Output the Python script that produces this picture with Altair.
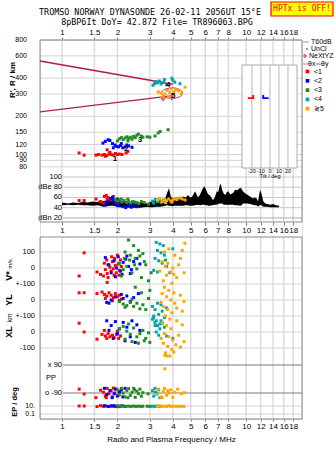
import altair as alt
import pandas as pd

FONT = "Liberation Sans"
MONO = "DejaVu Sans Mono"

MODES = ["<1", "<2", "<3", "<4", "≷5"]
MODE_COLORS = ["#ff0000", "#0000ff", "#228b22", "#00a6a6", "#ffa500"]

FREQ_TICKS = [1, 1.5, 2, 3, 4, 5, 6, 7, 8, 10, 12, 14, 16, 18]
HEIGHT_TICKS = [80, 90, 100, 120, 150, 200, 300, 400, 600, 800]
AMP_TICKS = [100, 80, 60, 40, 20]
AMP_LABELS = ["100", "dBe 80", "60", "40", "dBn 20"]
VSTAR_TICKS = [100, 0, -100]
VSTAR_LABELS = ["100", "0", "+-100"]
YL_TICKS = [0, -100]
YL_LABELS = ["0", "+-100"]
XL_TICKS = [0, -100]
XL_LABELS = ["0", "-100"]
PP_TICKS = [90, -90]
PP_LABELS = ["x  90", "o -90"]
EP_TICKS = [10, 0.1]
EP_LABELS = ["10.", "0.1"]
TILT_TICKS = [-20, -10, 0, 10, 20]
TILT_LABELS = ["-20", "-10", "0", "10", "20"]

# virtual height R' (km) vs frequency (MHz)
height_pts = {
    "<1": [(1.24, 103), (1.32, 99), (1.53, 99), (1.58, 100), (1.65, 99), (1.70, 100), (1.72, 97),
           (1.75, 98), (1.76, 109), (1.80, 101), (1.82, 104), (1.85, 100), (1.90, 99), (1.95, 102),
           (2.00, 100), (2.05, 101), (2.12, 100), (2.23, 103), (2.28, 106)],
    "<2": [(1.67, 123), (1.72, 127), (1.78, 131), (1.82, 129), (1.88, 122), (1.90, 113), (1.94, 119),
           (1.98, 116), (2.03, 115), (2.08, 118), (2.10, 122), (2.14, 113), (2.20, 115), (2.25, 119),
           (2.30, 117), (2.40, 114)],
    "<3": [(2.00, 128), (2.05, 133), (2.10, 136), (2.15, 131), (2.20, 135), (2.25, 138), (2.28, 128),
           (2.30, 134), (2.35, 137), (2.40, 132), (2.45, 139), (2.50, 136), (2.55, 142), (2.60, 145),
           (2.70, 140), (2.75, 137), (2.90, 138), (3.00, 137), (3.20, 140), (3.33, 148), (3.41, 152),
           (3.77, 157)],
    "<4": [(3.12, 352), (3.18, 362), (3.25, 375), (3.30, 368), (3.38, 380), (3.45, 360), (3.55, 370),
           (3.60, 390), (3.70, 355), (3.95, 400), (4.00, 385), (4.10, 372), (4.37, 362)],
    "≷5": [(3.33, 312), (3.45, 305), (3.50, 282), (3.55, 290), (3.62, 300), (3.72, 320), (3.78, 285),
           (3.85, 308), (3.90, 330), (3.95, 298), (4.05, 312), (4.15, 325), (4.30, 318), (4.45, 302),
           (4.66, 340)],
}

# model traces (theta-x) and the cusp ellipse
model_upper = [(0.76, 547), (4.0, 358)]
model_lower = [(0.76, 217), (3.9, 290)]
cusp_ellipse = [(3.96, 305)]
nextyz_marks = [(3.54, 275), (3.96, 280)]
trace_labels = [(1.94, 93, "1"), (2.23, 110, "2"), (2.65, 130, "3"), (3.77, 352, "4"), (4.02, 290, "5")]

# tilt inset (deg, km)
tilt_pts = [("<1", -21, 280), ("<2", -5, 280)]

# amplitude (dB) of echoes
amp_pts = {
    "<1": [(1.24, 54), (1.32, 54), (1.53, 57), (1.62, 52), (1.68, 49), (1.70, 62), (1.74, 64), (1.76, 56),
           (1.78, 60), (1.82, 58), (1.86, 55), (1.90, 62), (1.95, 53), (2.00, 57), (2.05, 50)],
    "<2": [(1.72, 45), (1.78, 52), (1.84, 58), (1.88, 60), (1.90, 55), (1.96, 48), (2.00, 56), (2.02, 44),
           (2.08, 50), (2.15, 42), (2.22, 40), (2.30, 44), (2.38, 41), (2.46, 46), (2.55, 42)],
    "<3": [(1.95, 56), (2.00, 53), (2.06, 55), (2.10, 57), (2.12, 51), (2.18, 54), (2.24, 50), (2.28, 57),
           (2.30, 53), (2.36, 49), (2.42, 52), (2.48, 51), (2.55, 50), (2.62, 48), (2.70, 52), (2.80, 50),
           (2.95, 47)],
    "<4": [(3.10, 53), (3.15, 49), (3.22, 56), (3.30, 52), (3.38, 55), (3.45, 50), (3.55, 54), (3.62, 52)],
    "≷5": [(3.30, 55), (3.40, 58), (3.50, 52), (3.60, 56), (3.65, 50), (3.70, 54), (3.80, 57), (3.90, 53),
           (3.95, 51), (4.00, 55), (4.10, 58), (4.20, 56), (4.35, 59), (4.50, 57), (4.66, 55)],
}

# receiver noise / clutter band (f, low dB, high dB)
noise_f = [1.00, 1.08, 1.15, 1.22, 1.30, 1.38, 1.47, 1.55, 1.61, 1.67, 1.75, 1.82, 1.89, 2.00, 2.14, 2.28,
           2.43, 2.55, 2.65, 2.78, 2.90, 3.00, 3.12, 3.25, 3.41, 3.55, 3.63, 3.72, 3.81, 3.90, 3.96, 4.08,
           4.21, 4.37, 4.54, 4.70, 4.83, 4.96, 5.10, 5.28, 5.48, 5.62, 5.77, 5.92, 6.05, 6.13, 6.25, 6.37,
           6.50, 6.61, 6.75, 6.93, 7.05, 7.20, 7.30, 7.40, 7.55, 7.70, 7.85, 8.00, 8.20, 8.40, 8.55, 8.70,
           8.95, 9.30, 9.45, 9.60, 9.90, 10.2, 10.5, 10.9, 11.1, 11.4, 11.6, 11.9, 12.1, 12.4, 12.7, 13.0,
           13.5, 14.0, 14.5, 15.1]
noise_hi = [50, 48, 50, 49, 51, 50, 52, 51, 53, 53, 54, 55, 55, 53, 51, 50,
            49, 48, 49, 50, 48, 51, 53, 55, 56, 54, 57, 69, 78, 62, 59, 57,
            60, 58, 62, 60, 65, 60, 62, 72, 60, 66, 75, 82, 76, 70, 66, 64,
            58, 55, 60, 72, 70, 85, 86, 75, 68, 65, 70, 72, 66, 68, 70, 75,
            74, 79, 77, 72, 68, 65, 62, 58, 60, 58, 52, 75, 68, 52, 48, 47,
            46, 47, 45, 44]
noise_lo = [45, 46, 45, 46, 45, 45, 44, 45, 44, 42, 43, 44, 44, 42, 40, 40,
            40, 40, 40, 41, 42, 41, 41, 42, 42, 43, 44, 45, 44, 44, 43, 44,
            44, 44, 44, 45, 45, 44, 44, 45, 46, 45, 46, 46, 45, 45, 44, 44,
            45, 45, 46, 46, 47, 48, 48, 48, 46, 46, 46, 46, 46, 46, 46, 45,
            45, 44, 45, 48, 48, 48, 47, 46, 45, 45, 42, 46, 45, 42, 42, 42,
            41, 41, 41, 41]

# Doppler velocity V* (m/s)
vstar_pts = {
    "<1": [(1.32, 95), (1.24, -50), (1.55, -25), (1.62, -40), (1.68, -50), (1.70, 30), (1.72, -10),
           (1.75, 50), (1.76, -35), (1.76, -90), (1.78, -60), (1.80, 20), (1.82, 5), (1.85, -20),
           (1.86, 70), (1.88, 40), (1.90, -5), (1.92, -45), (1.93, 60), (1.95, 15), (1.97, -30),
           (2.00, 80), (2.02, 25), (2.04, -45), (2.05, -15), (2.08, 50), (2.10, 10)],
    "<2": [(1.72, 65), (1.78, 20), (1.85, -30), (1.92, 45), (1.95, -55), (1.98, 0), (2.02, 70),
           (2.08, -20), (2.12, -40), (2.15, 35), (2.22, 55), (2.25, 75), (2.30, 10), (2.35, -35),
           (2.38, -10), (2.45, 40), (2.55, 60), (2.65, 25)],
    "<3": [(2.30, 175), (2.45, 140), (2.60, 110), (2.20, 100), (2.35, 80), (2.50, 60), (2.65, 75),
           (2.80, 40), (2.05, 30), (2.15, -10), (2.25, 10), (2.40, -30), (2.55, -5), (2.70, -60),
           (2.85, 20), (2.95, -80), (2.10, -50), (2.33, 50), (2.48, 20), (2.75, 90), (3.05, -30),
           (2.18, 60)],
    "<4": [(3.25, 160), (3.40, 150), (3.55, 140), (3.30, 110), (3.45, 95), (3.60, 80), (3.20, 60),
           (3.35, 45), (3.50, 30), (3.70, 10), (3.15, -15), (3.30, -25), (3.85, -30), (3.65, 50),
           (4.00, 120)],
    "≷5": [(3.60, 100), (3.80, 120), (4.10, 80), (4.50, 110), (4.65, 155), (3.50, 40), (3.75, 30),
           (4.00, 0), (4.30, 20), (3.40, -20), (3.70, -45), (3.90, -25), (4.20, -60), (4.60, -30),
           (3.55, -80), (3.95, -95), (4.40, 60), (3.65, 10), (4.05, -40)],
}

# YL (km)
yl_pts = {
    "<1": [(1.24, 45), (1.32, 45), (1.55, 40), (1.65, 50), (1.70, 35), (1.72, 10), (1.75, 25), (1.80, 45),
           (1.85, 30), (1.88, -5), (1.90, 15), (1.95, 40), (2.00, 20), (2.05, 30), (2.10, 5)],
    "<2": [(1.75, -15), (1.80, -20), (1.85, 0), (1.95, 20), (2.05, -5), (2.10, 35), (2.15, 10),
           (2.25, 25), (2.35, -10), (2.45, 15), (2.60, 40)],
    "<3": [(2.05, -10), (2.15, -25), (2.20, -45), (2.25, -35), (2.35, -15), (2.40, 5), (2.45, -40),
           (2.50, 80), (2.55, -20), (2.65, -55), (2.70, 45), (2.75, -30), (2.85, -60), (2.95, 10),
           (3.00, 60)],
    "<4": [(3.10, -40), (3.20, -60), (3.30, -20), (3.15, -100), (3.25, -130), (3.40, -150),
           (3.35, -90), (3.50, -70), (3.60, -110), (3.20, -160), (3.45, -30), (3.70, -50)],
    "≷5": [(3.60, 80), (3.80, 60), (3.50, 40), (3.70, 20), (3.90, 0), (4.10, -20), (4.40, 30),
           (4.60, -10), (3.55, -40), (3.75, -60), (3.95, -80), (4.20, -50), (3.65, -100),
           (3.85, -120), (4.50, -70), (3.45, -15), (4.05, 45)],
}

# XL (km)
xl_pts = {
    "<1": [(1.24, 55), (1.32, 0), (1.55, -45), (1.65, -15), (1.70, 10), (1.72, -25), (1.75, -40),
           (1.78, -10), (1.82, -30), (1.88, -20), (1.92, -35), (1.98, -15), (2.00, 5), (2.03, -40),
           (2.08, -25)],
    "<2": [(1.75, 70), (1.80, 10), (1.85, 40), (1.90, -40), (1.95, 65), (2.00, -10), (2.05, 20),
           (2.15, 60), (2.20, -55), (2.25, 30), (2.35, -30), (2.40, 70), (2.50, -65), (2.55, 45),
           (2.65, 10)],
    "<3": [(2.05, 20), (2.15, 35), (2.20, -45), (2.25, 5), (2.30, 50), (2.35, -15), (2.40, -60),
           (2.45, 25), (2.55, -30), (2.60, -70), (2.65, -10), (2.75, 10), (2.80, -55), (2.85, -40),
           (2.95, -5), (3.00, -65)],
    "<4": [(3.10, 80), (3.15, 90), (3.20, 60), (3.25, 0), (3.30, 40), (3.35, -20), (3.40, 20),
           (3.45, 70), (3.50, 55), (3.60, 30), (3.70, -25), (4.00, -40)],
    "≷5": [(3.50, 60), (3.70, 40), (3.90, 20), (4.20, 70), (4.50, 45), (3.60, -10), (3.80, -30),
           (4.00, -50), (4.30, -20), (3.55, -70), (3.75, -90), (3.95, -110), (4.15, -80), (3.65, -130),
           (3.85, -150), (4.05, -125), (4.40, -95), (3.45, -40), (4.60, -60), (3.62, -145),
           (3.70, -150), (3.62, -230)],
}

# polarisation PP (deg)
pp_pts = {
    "<1": [(1.24, -65), (1.32, -97), (1.53, -120), (1.62, -72), (1.68, -85), (1.72, -110), (1.74, -120),
           (1.76, -60), (1.80, -95), (1.85, -75), (1.88, -115), (1.90, -58), (1.93, -90), (1.97, -65),
           (2.02, -105), (2.06, -80)],
    "<2": [(1.70, -60), (1.75, -100), (1.82, -75), (1.87, -120), (1.92, -95), (1.95, -65), (2.00, -110),
           (2.05, -85), (2.10, -70), (2.14, -115), (2.20, -60)],
    "<3": [(2.00, -70), (2.05, -100), (2.10, -60), (2.15, -90), (2.20, -115), (2.25, -75), (2.28, -120),
           (2.30, -62), (2.35, -105), (2.40, -85), (2.45, -60), (2.48, -70), (2.50, -118), (2.55, -78),
           (2.60, -95), (2.65, -65), (2.70, -110), (2.75, -88), (2.93, -95)],
    "<4": [(3.10, -75), (3.15, -110), (3.20, -60), (3.22, -85), (3.28, -95), (3.35, -70), (3.40, -120)],
    "≷5": [(3.25, -100), (3.35, -65), (3.45, -115), (3.50, -120), (3.55, -80), (3.60, -60), (3.70, -105),
           (3.75, -75), (3.80, -90), (3.90, -70), (4.00, -118), (4.10, -85), (4.25, -65), (4.45, -95),
           (4.60, -88)],
}

# EP (deg)
ep_pts = {
    "<1": [(1.24, 10), (1.32, 10), (1.55, 7), (1.62, 12), (1.68, 8), (1.74, 10), (1.80, 7), (1.86, 11),
           (1.92, 8), (2.00, 10), (2.06, 7)],
    "<2": [(1.70, 12), (1.78, 8), (1.85, 10), (1.92, 12), (1.98, 7), (2.05, 9), (2.12, 11), (2.20, 8)],
    "<3": [(2.00, 9), (2.08, 8), (2.15, 10), (2.22, 8), (2.30, 9), (2.38, 8), (2.45, 10), (2.52, 8),
           (2.60, 9), (2.68, 8), (2.75, 9), (2.90, 9), (3.00, 8)],
    "<4": [(3.10, 9), (3.18, 8), (3.28, 10), (3.38, 8)],
    "≷5": [(3.30, 8), (3.40, 12), (3.50, 8), (3.60, 9), (3.70, 8), (3.80, 12), (3.90, 8), (4.00, 9),
           (4.15, 8), (4.30, 9), (4.45, 8), (4.60, 8)],
}

# ---------------------------------------------------------------- scales
W = 262
FX = alt.Scale(type="log", domain=[0.76, 20.1], nice=False)
YA = alt.Scale(type="log", domain=[69, 800], range=[135, 0], nice=False)
YB = alt.Scale(domain=[12, 104], range=[182, 135], nice=False, zero=False)
YV = alt.Scale(domain=[-200, 200], range=[260, 196], nice=False, zero=False)
YYL = alt.Scale(domain=[-200, 200], range=[292, 228], nice=False, zero=False)
YXL = alt.Scale(domain=[-200, 200], range=[324, 260], nice=False, zero=False)
YPP = alt.Scale(domain=[-90, 90], range=[353, 325], nice=False, zero=False)
YEP = alt.Scale(type="log", domain=[0.1, 10], range=[374, 366], nice=False)
XT = alt.Scale(domain=[-31, 30], range=[202, 257], nice=False, zero=False)

COLOR = alt.Color(
    "mode:N",
    scale=alt.Scale(domain=MODES, range=MODE_COLORS),
    legend=alt.Legend(orient="none", legendX=264, legendY=28, title=None, symbolType="square",
                      symbolSize=14, symbolStrokeWidth=0, labelFontSize=7, labelFont=FONT,
                      labelOffset=3, rowPadding=1.3, padding=0),
)


def xaxis(orient, offset=0, title=None, tick=3):
    kw = dict(orient=orient, values=FREQ_TICKS, format="~g", labelOverlap=False, labelFlush=False,
              tickSize=tick, labelPadding=1, grid=False, domain=False, labelFontSize=8,
              labelFont=FONT, tickColor="#777", labelColor="black", offset=offset)
    if title:
        kw.update(title=title, titleFontSize=8, titleFontWeight="normal", titleFont=FONT, titlePadding=5)
    else:
        kw.update(title=None)
    return alt.Axis(**kw)


def one():
    return pd.DataFrame({"k": [0]})


def pts_df(d):
    return pd.DataFrame([{"mode": m, "f": f, "v": v} for m, lst in d.items() for f, v in lst])


def point_layer(d, yscale, axis=None):
    return alt.Chart(pts_df(d)).mark_square(size=9, opacity=1).encode(
        x=alt.X("f:Q", scale=FX, axis=axis),
        y=alt.Y("v:Q", scale=yscale, axis=None),
        color=COLOR,
    )


def hgrid(values, scale, x0, x1, color, width=1.0):
    return alt.Chart(pd.DataFrame({"v": values})).mark_rule(color=color, strokeWidth=width).encode(
        y=alt.Y("v:Q", scale=scale, axis=None), x=alt.value(x0), x2=alt.value(x1))


def ylabels(values, labels, scale, x, size=7.5):
    return alt.Chart(pd.DataFrame({"v": values, "label": labels})).mark_text(
        align="right", baseline="middle", fontSize=size, font=FONT, color="black").encode(
        y=alt.Y("v:Q", scale=scale, axis=None), x=alt.value(x), text="label:N")


def note(text, x, y, size=7.0, align="left", color="black", angle=0, font=FONT, weight="normal"):
    return alt.Chart(pd.DataFrame({"t": [text]})).mark_text(
        align=align, baseline="middle", fontSize=size, color=color, angle=angle, font=font,
        fontWeight=weight).encode(x=alt.value(x), y=alt.value(y), text="t:N")


def vgrid(y0, y1):
    return alt.Chart(pd.DataFrame({"f": FREQ_TICKS})).mark_rule(color="#dcdcdc", strokeWidth=1.5).encode(
        x=alt.X("f:Q", scale=FX, axis=None), y=alt.value(y0), y2=alt.value(y1))


def frame(y0, y1):
    return alt.Chart(one()).mark_rect(fillOpacity=0, stroke="#8a8a8a", strokeWidth=1).encode(
        x=alt.value(0), x2=alt.value(W), y=alt.value(y0), y2=alt.value(y1))


layers = []
# grids
layers += [vgrid(0, 182), vgrid(197, 379)]
layers += [hgrid(HEIGHT_TICKS, YA, 0, W, "#d4d4d4")]
layers += [hgrid(AMP_TICKS[:-1], YB, 23, W, "#c8c8c8"), hgrid([20], YB, 23, W, "#a8a8e8")]
layers += [hgrid(VSTAR_TICKS, YV, 0, W, "#d4d4d4"), hgrid(YL_TICKS, YYL, 0, W, "#d4d4d4"),
           hgrid(XL_TICKS, YXL, 0, W, "#d4d4d4")]
layers += [hgrid(PP_TICKS, YPP, 23, W, "#7a7a7a"), hgrid(EP_TICKS, YEP, 0, W, "#d0d0e0")]

# tick labels
layers += [ylabels(HEIGHT_TICKS, [str(v) for v in HEIGHT_TICKS], YA, -13, 7)]
layers += [ylabels(AMP_TICKS, AMP_LABELS, YB, 22, 7.5)]
layers += [ylabels(VSTAR_TICKS, VSTAR_LABELS, YV, -5, 7.5), ylabels(YL_TICKS, YL_LABELS, YYL, -5, 7.5),
           ylabels(XL_TICKS, XL_LABELS, YXL, -5, 7.5), ylabels(PP_TICKS, PP_LABELS, YPP, 22, 7.5),
           ylabels(EP_TICKS, EP_LABELS, YEP, -5, 7)]

# frames
layers += [frame(0, 182), frame(197, 379)]

# tilt inset
layers += [alt.Chart(one()).mark_rect(fill="white", stroke="#a8a8c0", strokeWidth=1).encode(
    x=alt.value(202), x2=alt.value(257), y=alt.value(25), y2=alt.value(128))]
layers += [alt.Chart(pd.DataFrame({"t": TILT_TICKS})).mark_rule(color="#b4b4c8", strokeWidth=1).encode(
    x=alt.X("t:Q", scale=XT, axis=None), y=alt.value(25), y2=alt.value(128))]
layers += [alt.Chart(pd.DataFrame({"t": TILT_TICKS, "label": TILT_LABELS})).mark_text(
    fontSize=5.5, font=FONT, baseline="middle").encode(
    x=alt.X("t:Q", scale=XT, axis=None), y=alt.value(131), text="label:N")]
layers += [note("Tilt / deg", 230, 136, 5.5, align="center")]
tilt_df = pd.DataFrame(tilt_pts, columns=["mode", "t", "h"])
layers += [alt.Chart(tilt_df[tilt_df["mode"] == "<1"]).mark_point(
    shape="M-1,-0.2H0.9V0.4H-1Z M0.4,-0.9H1V0.4H0.4Z", filled=True, size=40, opacity=1, color="#ff0000").encode(
    x=alt.X("t:Q", scale=XT, axis=None), y=alt.Y("h:Q", scale=YA, axis=None))]
layers += [alt.Chart(tilt_df[tilt_df["mode"] == "<2"]).mark_point(
    shape="M-0.9,-0.2H1V0.4H-0.9Z M-1,-0.9H-0.4V0.4H-1Z", filled=True, size=40, opacity=1, color="#0000ff").encode(
    x=alt.X("t:Q", scale=XT, axis=None), y=alt.Y("h:Q", scale=YA, axis=None))]

# model traces
for tr in (model_upper, model_lower):
    layers += [alt.Chart(pd.DataFrame(tr, columns=["f", "h"])).mark_line(color="#b01e44", strokeWidth=1.4).encode(
        x=alt.X("f:Q", scale=FX, axis=None), y=alt.Y("h:Q", scale=YA, axis=None))]
layers += [alt.Chart(pd.DataFrame(cusp_ellipse, columns=["f", "h"])).mark_point(
    shape="M-1,0A1,0.5,0,1,1,1,0A1,0.5,0,1,1,-1,0Z", size=441, filled=False, color="#c8284c",
    strokeWidth=1, opacity=1).encode(
    x=alt.X("f:Q", scale=FX, axis=None), y=alt.Y("h:Q", scale=YA, axis=None))]

# noise band in amplitude panel
layers += [alt.Chart(pd.DataFrame({"f": noise_f, "lo": noise_lo, "hi": noise_hi})).mark_area(
    color="black", opacity=1).encode(
    x=alt.X("f:Q", scale=FX, axis=None), y=alt.Y("lo:Q", scale=YB, axis=None), y2="hi:Q")]

# data points
layers += [point_layer(height_pts, YA, xaxis("top"))]
layers += [point_layer(amp_pts, YB, xaxis("bottom", offset=-197))]
layers += [point_layer(vstar_pts, YV, xaxis("bottom", title="Radio and Plasma Frequency / MHz", tick=2))]
layers += [point_layer(yl_pts, YYL), point_layer(xl_pts, YXL), point_layer(pp_pts, YPP),
           point_layer(ep_pts, YEP)]

# trace numbers and NeXtYZ marks
layers += [alt.Chart(pd.DataFrame(nextyz_marks, columns=["f", "h"])).mark_point(
    shape="cross", filled=True, size=22, color="#e0609a", opacity=1).encode(
    x=alt.X("f:Q", scale=FX, axis=None), y=alt.Y("h:Q", scale=YA, axis=None))]
layers += [alt.Chart(pd.DataFrame(trace_labels, columns=["f", "h", "t"])).mark_text(
    fontSize=8, font=FONT, fontWeight="bold", color="black").encode(
    x=alt.X("f:Q", scale=FX, axis=None), y=alt.Y("h:Q", scale=YA, axis=None), text="t:N")]

# axis titles
layers += [note("R', R / km", -27, 40, 8, align="center", angle=270, weight="bold")]
layers += [note("V*", -31, 236, 9, align="center", angle=270, weight="bold"),
           note("m/s", -30, 224, 6, align="center", angle=270),
           note("YL", -31, 260, 9, align="center", angle=270, weight="bold"),
           note("km", -30, 278, 6.5, align="center", angle=270),
           note("XL", -31, 292, 9, align="center", angle=270, weight="bold"),
           note("PP", 6, 338, 7.5),
           note("EP / deg", -25, 362, 7.5, align="center", angle=270, weight="bold")]

# header
layers += [note("TROMSO NORWAY   DYNASONDE 26-02-11 2056UT 15°E", 110, -28, 8.4, align="center", font=MONO),
           note("8pBP6It DoY=  42.872 File=  TR896063.BPG", 117, -18, 8.4, align="center", font=MONO)]
layers += [alt.Chart(one()).mark_rect(fill="#ffff00", stroke="#ff0000", strokeWidth=1.2).encode(
    x=alt.value(231), x2=alt.value(293), y=alt.value(-38), y2=alt.value(-24))]
layers += [note("HPTx is OFF!", 262, -31, 8, align="center", color="#ff0000", font=MONO)]

# right-hand key (non-echo items)
layers += [alt.Chart(one()).mark_rule(color="#a0a0a0", strokeWidth=1).encode(
    x=alt.value(263), x2=alt.value(269), y=alt.value(2))]
layers += [note("T60dB", 271, 2, 7)]
layers += [alt.Chart(one()).mark_point(shape="circle", filled=True, size=2, color="black", opacity=1).encode(
    x=alt.value(267), y=alt.value(9))]
layers += [note("UnCl", 271, 9, 7)]
layers += [alt.Chart(one()).mark_point(shape="cross", filled=True, size=18, color="#e0609a", opacity=1).encode(
    x=alt.value(265), y=alt.value(16))]
layers += [note("NeXtYZ", 269, 16, 7)]
layers += [alt.Chart(one()).mark_rule(color="#e07080", strokeWidth=1).encode(
    x=alt.value(263), x2=alt.value(268), y=alt.value(24))]
layers += [note("θx", 268, 24, 7)]
layers += [alt.Chart(one()).mark_rule(color="#7070e0", strokeWidth=1).encode(
    x=alt.value(276), x2=alt.value(281), y=alt.value(24))]
layers += [note("θy", 281, 24, 7)]

chart = (
    alt.layer(*layers)
    .resolve_scale(x="independent", y="independent")
    .properties(width=W, height=379, autosize=alt.AutoSizeParams(type="none"),
                padding={"left": 40, "top": 40, "right": 33, "bottom": 32})
    .configure_view(strokeOpacity=0)
    .configure(font=FONT, background="white")
)

chart.save("out.html", embed_options={"renderer": "svg", "actions": False})
